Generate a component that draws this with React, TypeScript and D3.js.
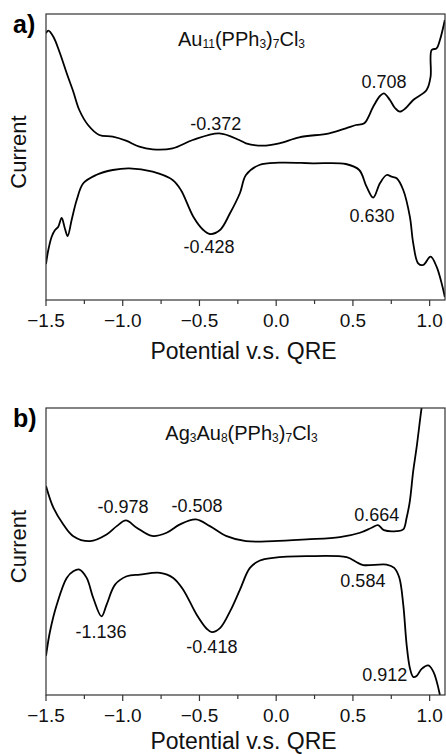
import React from 'react';
import * as d3 from 'd3';

// ---------- data ----------
const xDomain: [number, number] = [-1.5, 1.1];
const yDomain: [number, number] = [0, 286];
const xTicksMajor = [-1.5, -1.0, -0.5, 0.0, 0.5, 1.0];
const xTicksMinor = [-1.25, -0.75, -0.25, 0.25, 0.75];
const xLabel = 'Potential v.s. QRE';
const yLabel = 'Current';

// panel a: Au11(PPh3)7Cl3  [potential (V), current (a.u.)]
const aUpper: [number, number][] = [
  [-1.5, 266.7], [-1.485, 269.3], [-1.452, 263.3], [-1.409, 246.7], [-1.365, 226.7],
  [-1.322, 208.3], [-1.283, 190], [-1.226, 175], [-1.153, 165], [-1.065, 163.3],
  [-0.979, 159.3], [-0.892, 153.3], [-0.805, 150.7], [-0.675, 151.7], [-0.544, 160],
  [-0.371, 166.7], [-0.241, 160], [-0.197, 156.7], [-0.088, 154.3], [0.02, 156.7],
  [0.15, 162.7], [0.346, 166.7], [0.454, 171.7], [0.52, 175], [0.574, 176.7],
  [0.632, 193.3], [0.676, 204], [0.702, 206.7], [0.741, 200], [0.774, 192],
  [0.806, 188.3], [0.845, 192], [0.893, 200], [0.98, 210], [1.006, 223.3],
  [1.013, 250], [1.045, 251.7], [1.067, 260], [1.099, 280],
];
const aLower: [number, number][] = [
  [-1.5, 36], [-1.485, 50], [-1.463, 63.3], [-1.441, 70], [-1.42, 73.3],
  [-1.398, 82], [-1.376, 71], [-1.359, 64], [-1.333, 80], [-1.3, 100],
  [-1.257, 116.7], [-1.174, 125], [-1.065, 130], [-0.957, 131.7], [-0.805, 128.3],
  [-0.675, 120], [-0.621, 110], [-0.54, 83.3], [-0.475, 70], [-0.432, 66],
  [-0.366, 70], [-0.301, 86.7], [-0.236, 107], [-0.197, 125], [-0.11, 135],
  [0.02, 137.3], [0.237, 136.7], [0.454, 136], [0.541, 130], [0.589, 113.3],
  [0.632, 102.3], [0.676, 116.7], [0.72, 125], [0.752, 123.3], [0.785, 121.7],
  [0.828, 110], [0.871, 83.3], [0.893, 56.7], [0.925, 36.7], [0.958, 35],
  [1.006, 43.3], [1.045, 33.3], [1.078, 16.7], [1.099, 3],
];
const aPeaks: [string, number, number][] = [
  ['-0.372', -0.393, 170], ['0.708', 0.702, 212], ['-0.428', -0.438, 47], ['0.630', 0.624, 78],
];

// panel b: Ag3Au8(PPh3)7Cl3
const bUpper: [number, number][] = [
  [-1.5, 208.3], [-1.452, 186.7], [-1.387, 170], [-1.322, 158.3], [-1.213, 153.3],
  [-1.105, 160], [-1.039, 168.3], [-0.979, 174], [-0.909, 166.7], [-0.809, 158.5],
  [-0.714, 161.7], [-0.627, 170], [-0.523, 175], [-0.432, 168.3], [-0.323, 158.3],
  [-0.197, 153.3], [-0.019, 153.3], [0.198, 155], [0.415, 157.3], [0.546, 161.7],
  [0.622, 166.7], [0.663, 169.3], [0.702, 164.3], [0.785, 163.3], [0.828, 165],
  [0.85, 176.7], [0.871, 193.3], [0.893, 223.3], [0.915, 246.7], [0.948, 286.7],
  [0.962, 300],
];
const bLower: [number, number][] = [
  [-1.5, 39], [-1.474, 63.3], [-1.43, 90], [-1.365, 116.7], [-1.322, 123.3],
  [-1.282, 125], [-1.235, 116.7], [-1.192, 96.7], [-1.138, 78.3], [-1.105, 90],
  [-1.05, 110], [-0.974, 118.3], [-0.888, 120], [-0.757, 121.7], [-0.671, 116.7],
  [-0.606, 105], [-0.518, 80], [-0.453, 66], [-0.42, 62.7], [-0.366, 66.7],
  [-0.301, 83.3], [-0.236, 105], [-0.171, 126.7], [-0.106, 134], [-0.019, 136.7],
  [0.198, 138.3], [0.459, 137.3], [0.522, 132.5], [0.567, 129.5], [0.719, 130],
  [0.769, 126.7], [0.802, 117], [0.828, 90], [0.85, 50], [0.871, 27],
  [0.893, 18], [0.915, 19], [0.948, 26], [0.991, 29.5], [1.024, 23.3],
  [1.067, 0],
];
const bPeaks: [string, number, number][] = [
  ['-0.978', -0.998, 181], ['-0.508', -0.516, 182], ['0.664', 0.656, 173], ['0.584', 0.565, 108],
  ['-1.136', -1.142, 57], ['-0.418', -0.419, 42], ['0.912', 0.708, 14],
];

// formula parts: [text, isSubscript]
const aTitle: [string, boolean][] = [['Au', false], ['11', true], ['(PPh', false], ['3', true], [')', false], ['7', true], ['Cl', false], ['3', true]];
const bTitle: [string, boolean][] = [['Ag', false], ['3', true], ['Au', false], ['8', true], ['(PPh', false], ['3', true], [')', false], ['7', true], ['Cl', false], ['3', true]];

const FONT = '"Liberation Sans", Arial, Helvetica, sans-serif';

type PanelProps = {
  top: number; height: number; tag: string; labelGap: number;
  title: [string, boolean][];
  curves: [number, number][][];
  peaks: [string, number, number][];
};

const LEFT = 46;
const WIDTH = 399;

function Panel({ top, height, tag, labelGap, title, curves, peaks }: PanelProps) {
  const x = d3.scaleLinear().domain(xDomain).range([LEFT, LEFT + WIDTH]);
  const y = d3.scaleLinear().domain(yDomain).range([top + height, top]);
  const line = d3.line<[number, number]>()
    .x((d) => x(d[0]))
    .y((d) => y(d[1]))
    .curve(d3.curveCatmullRom.alpha(0.5));
  const clipId = `clip-${tag}`;
  const bottom = top + height;
  const fmt = d3.format('.1f');
  return (
    <g>
      <defs>
        <clipPath id={clipId}>
          <rect x={LEFT} y={top} width={WIDTH} height={height} />
        </clipPath>
      </defs>
      <g clipPath={`url(#${clipId})`}>
        {curves.map((c, i) => (
          <path key={i} d={line(c) || ''} fill="none" stroke="#000" strokeWidth={1.8} strokeLinejoin="round" />
        ))}
      </g>
      <rect x={LEFT} y={top} width={WIDTH} height={height} fill="none" stroke="#333" strokeWidth={1.2} />
      {xTicksMajor.map((t) => (
        <g key={`M${t}`}>
          <line x1={x(t)} x2={x(t)} y1={bottom} y2={bottom + 6} stroke="#333" strokeWidth={1.2} />
          <text x={x(t)} y={bottom + 27} textAnchor="middle" fontSize={19} fontFamily={FONT} fill="#111">
            {fmt(t)}
          </text>
        </g>
      ))}
      {xTicksMinor.map((t) => (
        <line key={`m${t}`} x1={x(t)} x2={x(t)} y1={bottom} y2={bottom + 4} stroke="#333" strokeWidth={1.2} />
      ))}
      <text x={(LEFT + LEFT + WIDTH) / 2 - 2} y={bottom + labelGap} textAnchor="middle" fontSize={23} fontFamily={FONT} fill="#111">
        {xLabel}
      </text>
      <text transform={`translate(26,${top + height / 2 - 5}) rotate(-90)`} textAnchor="middle" fontSize={22} fontFamily={FONT} fill="#111">
        {yLabel}
      </text>
      <text x={13} y={top + 19} fontSize={25} fontWeight="bold" fontFamily={FONT} fill="#000">
        {tag + ')'}
      </text>
      <text x={LEFT + WIDTH * 0.49} y={top + 32} textAnchor="middle" fontSize={20} fontFamily={FONT} fill="#111">
        {title.map(([s, sub], i) => (
          <tspan key={i} fontSize={sub ? 12 : 20} dy={sub ? 2 : (i > 0 && title[i - 1][1] ? -2 : 0)}>{s}</tspan>
        ))}
      </text>
      {peaks.map(([label, px, py]) => (
        <text key={label} x={x(px)} y={y(py)} textAnchor="middle" fontSize={18} fontFamily={FONT} fill="#111">
          {label}
        </text>
      ))}
    </g>
  );
}

export default function App() {
  return (
    <svg width={446} height={754} viewBox="0 0 446 754" style={{ position: 'absolute', left: 0, top: 0, background: '#fff' }}>
      <rect x={0} y={0} width={446} height={754} fill="#fff" />
      <Panel top={14} height={286} tag="a" labelGap={59} title={aTitle} curves={[aUpper, aLower]} peaks={aPeaks} />
      <Panel top={408} height={287} tag="b" labelGap={54} title={bTitle} curves={[bUpper, bLower]} peaks={bPeaks} />
    </svg>
  );
}
